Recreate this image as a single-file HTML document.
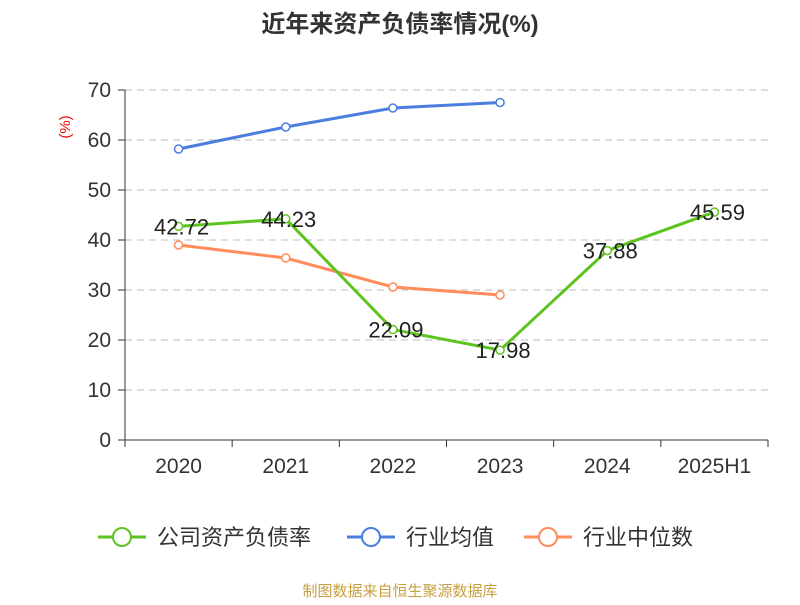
<!DOCTYPE html>
<html><head><meta charset="utf-8"><style>
body{margin:0;background:#fff;font-family:"Liberation Sans","Noto Sans CJK SC",sans-serif}
</style></head><body>
<svg width="800" height="600" xmlns="http://www.w3.org/2000/svg" font-family="Liberation Sans, Noto Sans CJK SC, sans-serif">
<text x="400" y="32" text-anchor="middle" font-size="24" font-weight="bold" fill="#333">近年来资产负债率情况(%)</text>
<text x="70" y="127" font-size="15" fill="#e00" transform="rotate(-90 70 127)" text-anchor="middle">(%)</text>
<g id="grid"></g><g id="axes"></g><g id="series"></g>
<g font-size="22" fill="#333">
<g><line x1="98" y1="537" x2="146" y2="537" stroke="#5cc41e" stroke-width="3"/><circle cx="122" cy="537" r="9" fill="#fff" stroke="#5cc41e" stroke-width="2"/><text x="157" y="545">公司资产负债率</text></g>
<g><line x1="347" y1="537" x2="395" y2="537" stroke="#4a7fe0" stroke-width="3"/><circle cx="371" cy="537" r="9" fill="#fff" stroke="#4a7fe0" stroke-width="2"/><text x="406" y="545">行业均值</text></g>
<g><line x1="524" y1="537" x2="572" y2="537" stroke="#ff8c5a" stroke-width="3"/><circle cx="548" cy="537" r="9" fill="#fff" stroke="#ff8c5a" stroke-width="2"/><text x="583" y="545">行业中位数</text></g>
</g>
<text x="400" y="596" text-anchor="middle" font-size="15" fill="#c8a040">制图数据来自恒生聚源数据库</text>
</svg>
<script>
const categories=["2020","2021","2022","2023","2024","2025H1"];
const companyValues=[42.72,44.23,22.09,17.98,37.88,45.59];
const avgValues=[58.2,62.6,66.4,67.5];
const medianValues=[39.0,36.4,30.6,29.0];
const yTicks=[0,10,20,30,40,50,60,70];
const NS="http://www.w3.org/2000/svg";
const x0=125,x1=768,yb=440,yt=90,ymax=70;
const bw=(x1-x0)/categories.length;
const xs=i=>x0+bw*(i+0.5);
const ys=v=>yb-(v/ymax)*(yb-yt);
function mk(t,a,p){const e=document.createElementNS(NS,t);for(const k in a)e.setAttribute(k,a[k]);p.appendChild(e);return e;}
const grid=document.getElementById('grid'),axes=document.getElementById('axes'),ser=document.getElementById('series');
yTicks.forEach(v=>{
 if(v>0){const g=mk('line',{x1:x0,x2:x1,y1:ys(v),y2:ys(v),stroke:'#bbb','stroke-dasharray':'7,5'},grid);}
 mk('line',{x1:x0-7,x2:x0,y1:ys(v),y2:ys(v),stroke:'#333'},axes);
 const t=mk('text',{x:x0-14,y:ys(v)+7,'text-anchor':'end','font-size':21,fill:'#333'},axes);t.textContent=v;
 
});
mk('line',{x1:x0,x2:x0,y1:yt,y2:yb,stroke:'#333'},axes);
mk('line',{x1:x0,x2:x1,y1:yb,y2:yb,stroke:'#333'},axes);
for(let i=0;i<=categories.length;i++)mk('line',{x1:x0+bw*i,x2:x0+bw*i,y1:yb,y2:yb+7,stroke:'#333'},axes);
categories.forEach((c,i)=>{const t=mk('text',{x:xs(i),y:473,'text-anchor':'middle','font-size':21,fill:'#333'},axes);t.textContent=c;
 });
function line(vals,color,name,labels){
 const g=mk('g',{},ser);
 mk('polyline',{points:vals.map((v,i)=>xs(i)+','+ys(v)).join(' '),fill:'none',stroke:color,'stroke-width':3},g);
 vals.forEach((v,i)=>{const c=mk('circle',{cx:xs(i),cy:ys(v),r:4,fill:'#fff',stroke:color,'stroke-width':1.5},g);
  
  if(labels){const t=mk('text',{x:xs(i)+3,y:ys(v)+8,'text-anchor':'middle','font-size':22,fill:'#222'},g);t.textContent=v.toFixed(2);
   }});
}
line(avgValues,'#4a7fe0','industry-avg-line',false);
line(medianValues,'#ff8c5a','industry-median-line',false);
line(companyValues,'#5cc41e','company-line',true);
</script>
</body></html>
